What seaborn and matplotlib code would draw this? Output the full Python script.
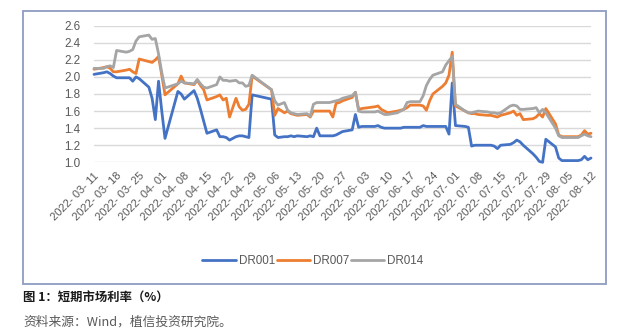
import numpy as np
import pandas as pd
import matplotlib
matplotlib.use("Agg")
import matplotlib.pyplot as plt
import seaborn as sns
from matplotlib.patches import Rectangle
from matplotlib.lines import Line2D

# ---------------- data ----------------
dates = [
    "2022-03-11",
    "2022-03-14", "2022-03-15", "2022-03-16", "2022-03-17", "2022-03-18",
    "2022-03-21", "2022-03-22", "2022-03-23", "2022-03-24", "2022-03-25",
    "2022-03-28", "2022-03-29", "2022-03-30", "2022-03-31", "2022-04-01", "2022-04-02",
    "2022-04-06", "2022-04-07", "2022-04-08",
    "2022-04-11", "2022-04-12", "2022-04-13", "2022-04-14", "2022-04-15",
    "2022-04-18", "2022-04-19", "2022-04-20", "2022-04-21", "2022-04-22",
    "2022-04-24", "2022-04-25", "2022-04-26", "2022-04-27", "2022-04-28", "2022-04-29",
    "2022-05-05", "2022-05-06", "2022-05-07",
    "2022-05-09", "2022-05-10", "2022-05-11", "2022-05-12", "2022-05-13",
    "2022-05-16", "2022-05-17", "2022-05-18", "2022-05-19", "2022-05-20",
    "2022-05-23", "2022-05-24", "2022-05-25", "2022-05-26", "2022-05-27",
    "2022-05-30", "2022-05-31", "2022-06-01", "2022-06-02",
    "2022-06-06", "2022-06-07", "2022-06-08", "2022-06-09", "2022-06-10",
    "2022-06-13", "2022-06-14", "2022-06-15", "2022-06-16", "2022-06-17",
    "2022-06-20", "2022-06-21", "2022-06-22", "2022-06-23", "2022-06-24",
    "2022-06-27", "2022-06-28", "2022-06-29", "2022-06-30", "2022-07-01",
    "2022-07-04", "2022-07-05", "2022-07-06", "2022-07-07", "2022-07-08",
    "2022-07-11", "2022-07-12", "2022-07-13", "2022-07-14", "2022-07-15",
    "2022-07-18", "2022-07-19", "2022-07-20", "2022-07-21", "2022-07-22",
    "2022-07-25", "2022-07-26", "2022-07-27", "2022-07-28", "2022-07-29",
    "2022-08-01", "2022-08-02", "2022-08-03", "2022-08-04", "2022-08-05",
    "2022-08-08", "2022-08-09", "2022-08-10", "2022-08-11", "2022-08-12",
]

dr001 = [
    2.03,
    2.05, 2.06, 2.04, 2.01, 1.99,
    1.99, 1.99, 1.95, 2.00, 1.98,
    1.88, 1.75, 1.50, 1.95, 1.60, 1.28,
    1.83, 1.80, 1.74,
    1.84, 1.75, 1.62, 1.48, 1.34,
    1.38, 1.30, 1.30, 1.29, 1.26,
    1.30, 1.31, 1.31, 1.30, 1.29, 1.79,
    1.74, 1.32, 1.29,
    1.30, 1.30, 1.31, 1.30, 1.31,
    1.30, 1.31, 1.30, 1.40, 1.31,
    1.31, 1.31, 1.32, 1.34, 1.36,
    1.38, 1.56, 1.41, 1.42,
    1.42, 1.43, 1.41, 1.40, 1.40,
    1.40, 1.40, 1.41, 1.41, 1.41,
    1.41, 1.43, 1.42, 1.42, 1.42,
    1.42, 1.42, 1.33, 1.93, 1.43,
    1.42, 1.41, 1.19, 1.20, 1.20,
    1.20, 1.20, 1.19, 1.16, 1.20,
    1.21, 1.23, 1.26, 1.24, 1.20,
    1.10, 1.06, 1.01, 1.00, 1.27,
    1.18, 1.05, 1.02, 1.02, 1.02,
    1.02, 1.03, 1.07, 1.03, 1.05,
]

dr007 = [
    2.09,
    2.11, 2.12, 2.10, 2.06, 2.06,
    2.08, 2.09, 2.06, 2.04, 2.21,
    2.18, 2.17, 2.20, 2.24, 2.02, 1.79,
    1.92, 2.01, 1.93,
    1.91, 1.96, 1.90, 1.85, 1.73,
    1.77, 1.79, 1.73, 1.75, 1.53,
    1.75, 1.65, 1.61, 1.62, 1.68, 2.01,
    1.85, 1.55, 1.63,
    1.58, 1.60, 1.57, 1.56, 1.55,
    1.56, 1.53, 1.60, 1.60, 1.60,
    1.60, 1.53, 1.69, 1.70, 1.72,
    1.76, 1.82, 1.62, 1.63,
    1.65, 1.66, 1.62, 1.60, 1.58,
    1.60, 1.61, 1.62, 1.64, 1.67,
    1.67, 1.66, 1.61, 1.72, 1.80,
    1.89, 1.93, 2.02, 2.29, 1.66,
    1.60, 1.58, 1.57, 1.57, 1.56,
    1.55, 1.55, 1.54, 1.53, 1.55,
    1.58, 1.60, 1.55, 1.57, 1.50,
    1.51, 1.53, 1.57, 1.53, 1.63,
    1.45, 1.32, 1.30, 1.30, 1.30,
    1.30, 1.32, 1.37, 1.33, 1.34,
]

dr014 = [
    2.10,
    2.10, 2.12, 2.13, 2.11, 2.31,
    2.29, 2.30, 2.32, 2.42, 2.47,
    2.49, 2.44, 2.45, 2.27, 2.05, 1.87,
    1.92, 1.95, 1.93,
    1.92, 1.97, 1.92, 1.88, 1.87,
    1.91, 2.00, 1.96, 1.96, 1.95,
    1.96, 1.93, 1.93, 1.89, 1.90, 2.02,
    1.85, 1.72, 1.67,
    1.70, 1.61, 1.58, 1.57, 1.56,
    1.57, 1.54, 1.68, 1.70, 1.70,
    1.70, 1.71, 1.72, 1.73, 1.75,
    1.78, 1.82, 1.60, 1.59,
    1.59, 1.60, 1.58, 1.56, 1.56,
    1.58, 1.60, 1.62, 1.70, 1.71,
    1.71, 1.78, 1.90, 1.97, 2.02,
    2.06, 2.14, 2.19, 2.24, 1.68,
    1.60, 1.58, 1.58, 1.59, 1.60,
    1.59, 1.58, 1.58, 1.57, 1.58,
    1.66, 1.67, 1.66, 1.62, 1.62,
    1.63, 1.64, 1.58, 1.62, 1.58,
    1.40, 1.31, 1.29, 1.29, 1.29,
    1.29, 1.31, 1.33, 1.31, 1.30,
]

series_names = ["DR001", "DR007", "DR014"]
series_colors = ["#4472C4", "#ED7D31", "#A5A5A5"]
y_ticks = [1.0, 1.2, 1.4, 1.6, 1.8, 2.0, 2.2, 2.4, 2.6]
x_tick_start, x_tick_end = "2022-03-11", "2022-08-12"
caption = "图 1：短期市场利率（%）"
source_note = "资料来源：Wind，植信投资研究院。"

assert len(dates) == len(dr001) == len(dr007) == len(dr014)

# ---------------- frame ----------------
df = pd.DataFrame({"date": pd.to_datetime(dates), "DR001": dr001, "DR007": dr007, "DR014": dr014})
long = df.melt(id_vars="date", value_vars=series_names, var_name="series", value_name="rate")

sns.set_theme(style="white")
plt.rcParams["font.family"] = ["Liberation Sans", "Noto Sans CJK SC", "DejaVu Sans"]

W, H = 640, 335
fig = plt.figure(figsize=(6.4, 3.35), dpi=100)
fig.patch.set_facecolor("white")

left, right, top, bottom = 94, 591, 25.7, 162.3
ax = fig.add_axes([left / W, 1 - bottom / H, (right - left) / W, (bottom - top) / H])

sns.lineplot(data=long, x="date", y="rate", hue="series", hue_order=series_names,
             palette=dict(zip(series_names, series_colors)), linewidth=2.0,
             ax=ax, legend=False, clip_on=False)

ax.set_xlim(pd.Timestamp(x_tick_start), pd.Timestamp(x_tick_end))
ax.set_ylim(y_ticks[0], y_ticks[-1])
ax.set_yticks(y_ticks)
ax.set_yticklabels([f"{v:.1f}" for v in y_ticks], color="#595959", fontsize=8.4)

tick_dates = pd.date_range(x_tick_start, x_tick_end, freq="7D")
ax.set_xticks(tick_dates)
ax.set_xticklabels([f"{d:%Y}- {d:%m}- {d:%d}" for d in tick_dates],
                   rotation=45, ha="right", rotation_mode="anchor",
                   color="#595959", fontsize=8.0)

ax.tick_params(axis="both", length=0)
ax.tick_params(axis="y", pad=10)
ax.tick_params(axis="x", pad=6)
ax.set_xlabel("")
ax.set_ylabel("")
ax.grid(False)
ax.yaxis.grid(True, color="#D9D9D9", linewidth=1.0)
ax.set_axisbelow(True)
for s in ax.spines.values():
    s.set_visible(False)
ax.set_facecolor("white")

# legend
handles = [Line2D([0], [0], color=c, lw=2.0) for c in series_colors]
fig.legend(handles, series_names, loc="center", bbox_to_anchor=(313 / W, 1 - 260.7 / H),
           ncol=3, frameon=False, fontsize=8.4, handlelength=2.9, handletextpad=0.25,
           columnspacing=0.1, labelcolor="#595959")

# outer border
fig.patches.append(Rectangle((23 / W, 1 - 284 / H), (606 - 23) / W, (284 - 11) / H,
                             transform=fig.transFigure, fill=False,
                             edgecolor="#8D9CC0", linewidth=1.3))

cjk = ["Noto Sans CJK SC", "DejaVu Sans"]
fig.text(23 / W, 1 - 298 / H, caption, family=cjk, fontsize=8.9, fontweight="bold",
         color="#1a1a1a", ha="left", va="center")
fig.text(23 / W, 1 - 322 / H, source_note, family=cjk, fontsize=9.2,
         color="#595959", ha="left", va="center")

fig.savefig("out.png", dpi=100, facecolor="white")
